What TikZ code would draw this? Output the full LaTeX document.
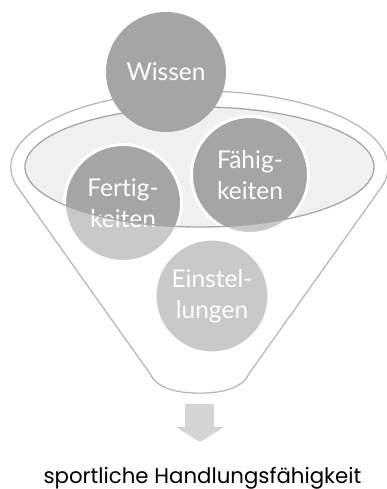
\documentclass[tikz,border=0pt]{standalone}
\usepackage{fontspec}
\setmainfont{Lato}[Ligatures=NoCommon]
\newfontfamily\captionfont{Poppins}
\definecolor{circg}{HTML}{A5A5A5}
\definecolor{lineg}{HTML}{A6A6A6}
\definecolor{innerf}{HTML}{F0F0F0}
\definecolor{arrowg}{HTML}{D4D4D4}
\tikzset{
  ball/.style={circle, fill=circg, text=white, align=center, inner sep=0pt,
    font=\fontsize{24.5}{31}\selectfont},
  rimball/.style={ball, draw=white, line width=3pt},
  funnelline/.style={draw=lineg, line width=1.3pt},
}
\begin{document}
\begin{tikzpicture}[x=1pt,y=-1pt]
\useasboundingbox (0,0) rectangle (387,489);
\begin{scope}
\clip (0,0) rectangle (387,489);
% funnel outline
\path[funnelline, fill=white] (18.3,188) arc[start angle=196, end angle=-16, x radius=188.5pt, y radius=76pt]
  -- (248.6,374) .. controls (241,390) and (218,393) .. (199.5,393)
  .. controls (181,393) and (158,390) .. (150.4,374) -- cycle;
% inner ellipse fill
\fill[innerf] (199.5,167) ellipse [x radius=174.5pt, y radius=60pt];
% circles
\node[rimball, minimum size=117pt] (fert) at (123,203) {Fertig-\\keiten};
\node[rimball, minimum size=117pt] (faeh) at (250,175) {Fähig-\\keiten};
\node[rimball, minimum size=114pt] (einst) at (212,296) {Einstel-\\lungen};
% translucent cone body
\fill[white, fill opacity=0.4, even odd rule] (18.3,188) arc[start angle=196, end angle=-16, x radius=188.5pt, y radius=76pt]
  -- (248.6,374) .. controls (241,390) and (218,393) .. (199.5,393)
  .. controls (181,393) and (158,390) .. (150.4,374) -- cycle
  (199.5,167) ellipse [x radius=174.5pt, y radius=60pt];
% inner ellipse stroke
\draw[funnelline] (199.5,167) ellipse [x radius=174.5pt, y radius=60pt];
\node[ball, minimum size=120pt] (wissen) at (166,72) {Wissen};
\end{scope}
% arrow
\fill[arrowg] (185,404) -- (214,404) -- (214,427) -- (224,427) -- (200,442) -- (176,427) -- (185,427) -- cycle;
\node[font=\captionfont\fontsize{21.3}{24}\selectfont, text=black, inner sep=0pt, anchor=base] (result) at (202.5,483) {sportliche Handlungsfähigkeit};
\end{tikzpicture}
\end{document}
